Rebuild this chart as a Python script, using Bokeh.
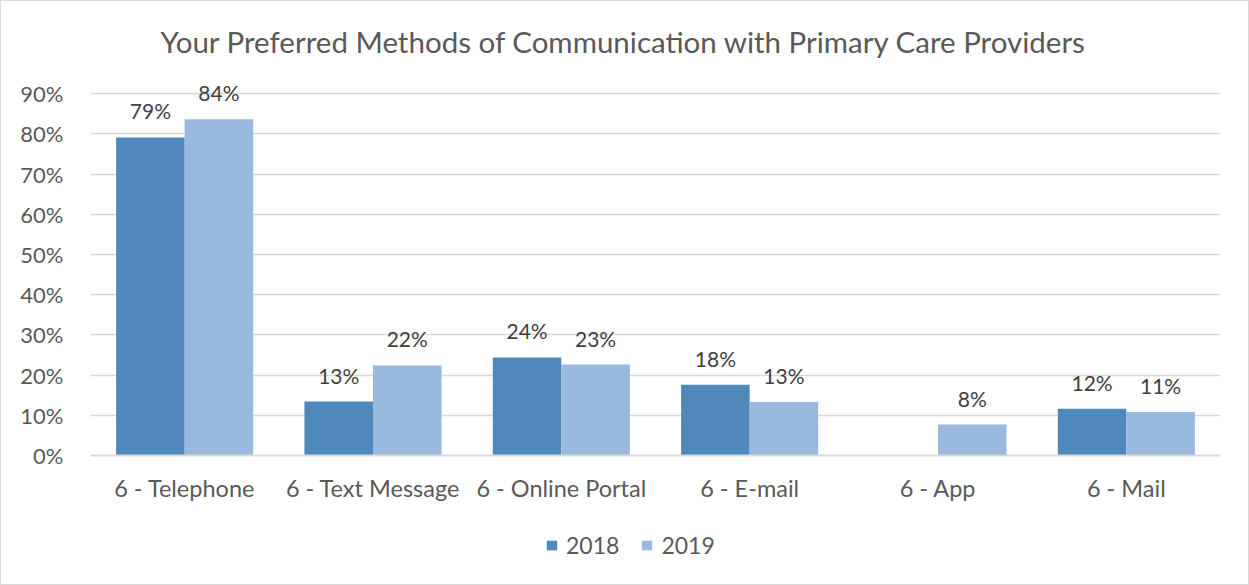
from bokeh.plotting import figure
from bokeh.layouts import column
from bokeh.models import ColumnDataSource, FactorRange, Legend, LegendItem, LabelSet, Title, FixedTicker, Range1d
from bokeh.transform import dodge
from bokeh.embed import file_html
from bokeh.resources import INLINE
from bokeh.core.properties import value

categories = ["6 - Telephone", "6 - Text Message", "6 - Online Portal", "6 - E-mail", "6 - App", "6 - Mail"]
years = ["2018", "2019"]
values_2018 = [79.1, 13.4, 24.4, 17.6, None, 11.6]
values_2019 = [83.6, 22.4, 22.6, 13.3, 7.7, 10.8]
y_ticks = [0, 10, 20, 30, 40, 50, 60, 70, 80, 90]
title_text = "Your Preferred Methods of Communication with Primary Care Providers"

C18 = "#4F89BC"
C19 = "#99B9DF"
FONT = "Lato"
GRAY = "#595959"

def make_src(vals):
    cats = [c for c, v in zip(categories, vals) if v is not None]
    vs = [v for v in vals if v is not None]
    labs = ["%d%%" % int(v + 0.5) for v in vs]
    return ColumnDataSource(dict(cat=cats, val=vs, lab=labs))

src18 = make_src(values_2018)
src19 = make_src(values_2019)

p = figure(x_range=FactorRange(*categories), y_range=Range1d(0, 94),
           width=1247, height=514, output_backend="svg", toolbar_location=None,
           min_border_left=89, min_border_right=28, min_border_top=76, min_border_bottom=60)
p.title = None
p.add_layout(Title(text=title_text, align="left", text_font=FONT, text_font_size="29.5px",
                   text_font_style="normal", text_color=GRAY, offset=70, standoff=37), "above")
p.outline_line_color = None

bw = 0.364
r18 = p.vbar(x=dodge("cat", -bw / 2, range=p.x_range), top="val", width=bw, source=src18,
             fill_color=C18, line_color=None)
r19 = p.vbar(x=dodge("cat", bw / 2, range=p.x_range), top="val", width=bw, source=src19,
             fill_color=C19, line_color=None)

for src, off in ((src18, -bw / 2), (src19, bw / 2)):
    p.add_layout(LabelSet(x=dodge("cat", off, range=p.x_range), y="val", text="lab", source=src,
                          text_align="center", text_baseline="alphabetic", y_offset=18,
                          text_font=value(FONT), text_font_size="21px", text_color="#404040"))

p.yaxis.ticker = FixedTicker(ticks=y_ticks)
p.yaxis.major_label_overrides = {t: "%d%%" % t for t in y_ticks}
p.yaxis.axis_line_color = None
p.yaxis.major_tick_line_color = None
p.yaxis.minor_tick_line_color = None
p.yaxis.major_label_standoff = 21
p.yaxis.major_label_text_font = FONT
p.yaxis.major_label_text_font_size = "22px"
p.yaxis.major_label_text_color = GRAY

p.xaxis.axis_line_color = "#D9D9D9"
p.xaxis.axis_line_width = 2
p.xaxis.major_tick_line_color = None
p.xaxis.minor_tick_line_color = None
p.xaxis.major_label_standoff = 12
p.xaxis.major_label_text_font = FONT
p.xaxis.major_label_text_font_size = "23.5px"
p.xaxis.major_label_text_color = GRAY

p.xgrid.grid_line_color = None
p.ygrid.grid_line_color = "#D9D9D9"
p.ygrid.grid_line_width = 1.5

# legend strip below the chart
pl = figure(width=1247, height=69, x_range=Range1d(0, 1), y_range=Range1d(0, 1),
            output_backend="svg", toolbar_location=None,
            x_axis_location=None, y_axis_location=None,
            min_border_left=0, min_border_right=0, min_border_top=0, min_border_bottom=0)
pl.outline_line_color = None
pl.xgrid.grid_line_color = None
pl.ygrid.grid_line_color = None
l18 = pl.vbar(x=[0.5], top=[-5], bottom=[-6], width=0.01, fill_color=C18, line_color=None)
l19 = pl.vbar(x=[0.5], top=[-5], bottom=[-6], width=0.01, fill_color=C19, line_color=None)
legend = Legend(items=[LegendItem(label=years[0], renderers=[l18]),
                       LegendItem(label=years[1], renderers=[l19])],
                orientation="horizontal", location=(455, 25),
                label_text_font=FONT, label_text_font_size="23px", label_text_color=GRAY,
                glyph_width=13, glyph_height=12, label_standoff=8, spacing=21,
                border_line_color=None, background_fill_alpha=0, margin=0, padding=0)
pl.add_layout(legend, "center")

layout = column(p, pl, spacing=0)
layout.styles = {"border": "1px solid #D9D9D9"}
open("out.html", "w").write(file_html(layout, INLINE))
